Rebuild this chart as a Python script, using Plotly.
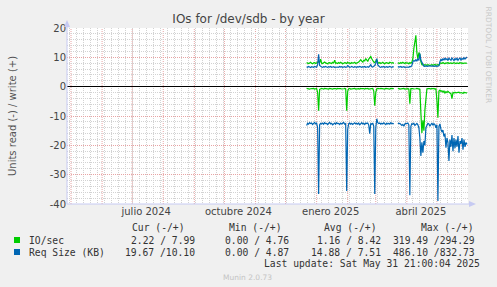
import plotly.graph_objects as go
import pandas as pd

# ---------------- data (daily, 2024-12-22 .. 2025-05-31) ----------------
start_date = "2024-12-22"
io_write = [
    8.2, 8.0, 7.9, 8.1, 8.3, 8.0, 7.8, 8.1, 8.2, 7.9,
    8.0, 8.3, 8.6, 8.1, 9.4, 8.0, 7.9, 8.2, 8.4, 8.1,
    8.0, 7.8, 8.1, 8.2, 8.0, 7.9, 8.3, 8.1, 9.0, 8.0,
    8.1, 7.9, 8.2, 8.0, 8.3, 8.1, 7.8, 8.0, 8.2, 8.1,
    7.9, 8.3, 8.0, 8.1, 7.9, 8.2, 8.0, 8.1, 8.3, 7.9,
    8.0, 8.2, 8.4, 8.8, 9.2, 8.7, 8.4, 9.0, 8.8, 9.6,
    9.2, 8.6, 9.4, 9.8, 10.3, 9.5, 8.8, 8.4, 8.2, 8.9,
    9.2, 8.4, 8.0, 8.2, 7.9, 8.1, 8.3, 8.0, 7.8, 8.1,
    8.2, 8.0, 7.9, 8.3, 8.1, 8.0, 8.2, 7.9, None, None,
    None, 8.0, 8.1, 7.9, 8.2, 8.0, 8.3, 8.1, 7.9, 8.2,
    8.0, 8.1, 7.8, 8.2, 8.0, 8.4, 9.5, 13.0, 16.0, 17.5,
    11.5, 9.5, 11.6, 11.0, 8.5, 7.5, 7.4, 7.3, 7.5, 7.4,
    7.3, 7.5, 7.4, 7.2, 7.4, 7.5, 7.3, 7.4, 7.6, 7.3,
    7.4, 7.5, 7.3, 8.0, 8.1, 7.9, 8.2, 8.0, 7.8, 8.1,
    8.0, 8.2, 7.9, 8.0, 8.1, 7.9, 8.0, 8.2, 8.0, 7.9,
    8.1, 8.0, 7.9, 8.2, 8.0, 8.1, 7.9, 8.0, 8.1, 8.0, 7.99,
]
req_write = [
    6.8, 6.6, 6.9, 6.7, 6.5, 6.8, 6.7, 6.6, 6.9, 6.7,
    6.6, 7.5, 11.0, 7.2, 6.8, 6.7, 6.6, 6.8, 6.7, 6.9,
    6.7, 6.6, 6.8, 6.7, 6.9, 6.6, 6.7, 6.8, 6.6, 6.7,
    6.8, 6.7, 6.6, 6.9, 6.7, 6.8, 6.6, 6.7, 6.8, 6.6,
    6.7, 7.2, 6.8, 6.6, 6.7, 6.9, 6.7, 6.6, 6.8, 6.7,
    6.6, 6.8, 6.7, 6.9, 6.7, 6.6, 6.8, 6.7, 6.9, 6.6,
    6.7, 6.8, 6.6, 6.9, 7.5, 6.8, 6.7, 7.0, 7.2, 8.0,
    9.6, 7.4, 6.8, 6.7, 6.6, 6.8, 6.7, 6.9, 6.6, 6.7,
    6.8, 6.6, 6.7, 6.9, 6.7, 6.6, 6.8, 6.7, None, None,
    None, 6.6, 6.8, 6.7, 6.9, 6.6, 6.7, 6.8, 6.6, 6.7,
    6.8, 6.7, 6.6, 6.9, 6.8, 7.2, 8.5, 8.9, 8.7, 9.2,
    8.8, 9.4, 9.0, 11.3, 9.0, 8.2, 7.2, 7.0, 6.9, 7.1,
    7.0, 6.9, 7.1, 7.0, 6.9, 7.0, 7.1, 6.9, 7.0, 7.1,
    6.9, 7.0, 7.1, 8.5, 9.4, 8.8, 9.6, 9.0, 9.8, 9.2,
    9.5, 8.9, 9.7, 9.3, 9.0, 9.8, 9.4, 8.9, 9.6, 9.2,
    9.7, 9.0, 9.5, 9.8, 9.1, 9.6, 9.3, 9.9, 9.4, 9.7, 10.1,
]
io_read = [
    -0.6, -0.7, -0.6, -0.8, -0.7, -0.6, -0.7, -0.6, -0.8, -0.7,
    -0.6, -2.0, -8.2, -0.9, -0.7, -0.6, -0.7, -0.8, -0.6, -0.7,
    -0.6, -0.7, -0.8, -0.6, -0.7, -0.6, -0.8, -0.7, -0.6, -0.7,
    -0.8, -0.6, -0.7, -0.6, -0.7, -0.8, -0.6, -0.7, -0.6, -0.7,
    -8.2, -1.5, -0.7, -0.6, -0.8, -0.7, -0.6, -0.7, -0.6, -0.8,
    -0.7, -0.6, -0.7, -0.8, -0.6, -0.7, -0.6, -0.7, -0.8, -0.6,
    -0.7, -0.6, -0.8, -0.7, -0.6, -0.7, -0.6, -1.5, -6.5, -2.0,
    -0.7, -0.6, -0.8, -0.7, -0.6, -0.7, -0.6, -0.7, -0.8, -0.6,
    -0.7, -0.6, -0.7, -0.8, -0.6, -0.7, -0.6, -0.7, None, None,
    None, -0.7, -0.6, -0.8, -0.7, -0.6, -0.7, -0.6, -0.8, -0.7,
    -0.6, -0.7, -0.8, -5.8, -0.7, -0.6, -0.7, -0.8, -0.6, -0.7,
    -0.6, -0.8, -0.7, -0.9, -9.0, -15.8, -11.5, -15.0, -8.0, -2.5,
    -0.8, -0.7, -0.6, -0.7, -0.8, -0.6, -0.7, -0.6, -0.8, -0.7,
    -4.8, -10.6, -1.5, -1.2, -1.6, -1.4, -1.9, -1.5, -2.2, -1.7,
    -2.0, -1.6, -1.9, -2.1, -2.4, -4.1, -2.0, -2.2, -1.9, -2.1,
    -2.0, -2.1, -1.9, -2.2, -2.0, -2.1, -2.3, -1.9, -2.1, -2.0, -2.22,
]
req_read = [
    -13.2, -12.5, -12.8, -12.3, -12.6, -12.4, -12.9, -12.5, -12.2, -12.7,
    -12.4, -14.0, -36.6, -13.0, -12.5, -12.7, -12.4, -12.8, -12.3, -12.6,
    -12.5, -12.9, -12.4, -12.2, -12.7, -12.5, -13.0, -12.6, -12.4, -12.8,
    -12.3, -12.6, -12.5, -12.9, -12.4, -12.7, -12.5, -12.2, -12.8, -12.6,
    -35.6, -14.5, -12.6, -12.4, -12.8, -12.5, -12.9, -12.4, -12.3, -12.7,
    -12.5, -12.8, -12.4, -13.0, -12.6, -12.3, -12.7, -12.5, -12.9, -12.4,
    -12.6, -12.4, -13.1, -16.0, -12.5, -12.8, -12.4, -13.5, -36.6, -14.0,
    -11.0, -12.3, -12.6, -12.4, -12.8, -12.5, -12.7, -12.3, -12.6, -12.9,
    -12.4, -12.7, -12.5, -12.8, -12.3, -12.6, -12.5, -12.7, None, None,
    None, -12.4, -12.6, -12.5, -12.8, -13.2, -12.9, -13.5, -12.7, -12.5,
    -12.6, -12.4, -13.0, -37.0, -13.5, -12.6, -12.8, -12.5, -13.2, -12.7,
    -12.5, -13.0, -14.0, -17.5, -23.6, -19.0, -22.5, -18.5, -20.0, -14.0,
    -12.8, -12.5, -12.7, -13.5, -12.9, -12.4, -13.2, -12.6, -12.9, -14.0,
    -13.0, -39.0, -13.5, -12.7, -14.5, -15.5, -14.8, -17.0, -16.0, -20.8,
    -17.5, -19.0, -25.3, -18.0, -20.5, -16.5, -22.0, -17.5, -21.0, -18.0,
    -20.5, -16.8, -22.5, -18.5, -19.5, -17.5, -21.5, -18.0, -20.5, -19.0, -19.67,
]

x_range = ["2024-04-27", "2025-06-01"]
month_lines = ["2024-05-01", "2024-06-01", "2024-07-01", "2024-08-01", "2024-09-01",
               "2024-10-01", "2024-11-01", "2024-12-01", "2025-01-01", "2025-02-01",
               "2025-03-01", "2025-04-01", "2025-05-01"]
label_dates = ["2024-07-15", "2024-10-15", "2025-01-15", "2025-04-15"]
label_text = ["julio 2024", "octubre 2024", "enero 2025", "abril 2025"]
y_ticks = [-40, -30, -20, -10, 0, 10, 20]
y_labels = ["-40", "-30", "-20", "-10", "0", "10", "20"]

legend_names = ["IO/sec", "Req Size (KB)"]
legend_colors = ["#00CC00", "#0066B3"]
stat_headers = ["Cur (-/+)", "Min (-/+)", "Avg (-/+)", "Max (-/+)"]
stats_cur = ["2.22 / 7.99", "19.67 /10.10"]
stats_min = ["0.00 / 4.76", "0.00 / 4.87"]
stats_avg = ["1.16 / 8.42", "14.88 / 7.51"]
stats_max = ["319.49 /294.29", "486.10 /832.73"]
last_update = "Last update: Sat May 31 21:00:04 2025"

dates = pd.date_range(start_date, periods=len(io_write), freq="D")

# ---------------- geometry helpers ----------------
W, H = 497, 287
L, R, T, B = 67, 29, 28, 83
PW, PH = W - L - R, H - T - B


def px(x):
    return (x - L) / PW


def py(y):
    return (H - B - y) / PH


fig = go.Figure()
for name, col, wr, rd in [("IO/sec", legend_colors[0], io_write, io_read),
                          ("Req Size (KB)", legend_colors[1], req_write, req_read)]:
    fig.add_trace(go.Scatter(x=dates, y=rd, mode="lines", name=name + " read",
                             line=dict(color=col, width=1.2), connectgaps=False,
                             showlegend=False))
    fig.add_trace(go.Scatter(x=dates, y=wr, mode="lines", name=name + " write",
                             line=dict(color=col, width=1.2), connectgaps=False,
                             showlegend=False))

axis_col = "#C6CAF2"
red_grid = "#E8A4A4"
grey_grid = "#D2D2D2"

shapes = []
for d in month_lines:
    shapes.append(dict(type="line", xref="x", yref="paper", x0=d, x1=d, y0=0, y1=1,
                       line=dict(color=red_grid, width=1, dash="1px,1px"), layer="below"))
# axis lines with arrows
shapes.append(dict(type="line", xref="paper", yref="paper", x0=0, x1=0, y0=0, y1=py(22),
                   line=dict(color=axis_col, width=1)))
shapes.append(dict(type="path", xref="paper", yref="paper",
                   path=f"M {px(64)} {py(27)} L {px(70)} {py(27)} L {px(67)} {py(20)} Z",
                   fillcolor=axis_col, line=dict(width=0)))
shapes.append(dict(type="line", xref="paper", yref="paper", x0=0, x1=px(472), y0=0, y1=0,
                   line=dict(color=axis_col, width=1)))
shapes.append(dict(type="path", xref="paper", yref="paper",
                   path=f"M {px(469)} {py(201)} L {px(469)} {py(207)} L {px(476)} {py(204)} Z",
                   fillcolor=axis_col, line=dict(width=0)))
# legend squares
for i, c in enumerate(legend_colors):
    yc = 240 + 12 * i
    shapes.append(dict(type="rect", xref="paper", yref="paper",
                       x0=px(14), x1=px(20), y0=py(yc - 3), y1=py(yc + 3),
                       fillcolor=c, line=dict(width=0)))

mono = "DejaVu Sans Mono"
txt_col = "#333333"
fs = 9.7
ann = []


def add(text, x, y, xanchor="left", size=fs, family=mono, color=txt_col, **kw):
    ann.append(dict(text=text, x=px(x), y=py(y), xref="paper", yref="paper",
                    xanchor=xanchor, yanchor="middle", showarrow=False,
                    font=dict(family=family, size=size, color=color), **kw))


header_right = [187, 284, 379, 476]
for h, xr in zip(stat_headers, header_right):
    add(h, xr, 228, "right")
for i in range(2):
    y = 240 + 12 * i
    add(legend_names[i], 27, y)
    add(stats_cur[i], 197, y, "right")
    add(stats_min[i], 291, y, "right")
    add(stats_avg[i], 383, y, "right")
    add(stats_max[i], 477, y, "right")
add(last_update, 482, 263, "right")
add("Munin 2.0.73", 247, 277, "center", size=7.5, family="DejaVu Sans", color="#C4C4C4")
add("Units read (-) / write (+)", 12, 116, "center", size=10, family="DejaVu Sans",
    color="#555555", textangle=-90)
ann.append(dict(text="RRDTOOL / TOBI OETIKER", x=px(488), y=py(4), xref="paper", yref="paper",
                xanchor="center", yanchor="top", showarrow=False, textangle=90,
                font=dict(family="DejaVu Sans", size=7.5, color="#C8C8C8")))

fig.update_layout(
    width=W, height=H,
    margin=dict(l=L, r=R, t=T, b=B),
    paper_bgcolor="#F0F0F0", plot_bgcolor="#FFFFFF",
    title=dict(text="IOs for /dev/sdb - by year", x=0.5, xanchor="center",
               y=1 - 19 / H, yanchor="middle",
               font=dict(family="DejaVu Sans", size=12, color="#444444")),
    shapes=shapes, annotations=ann, showlegend=False,
    xaxis=dict(type="date", range=x_range, tickvals=label_dates, ticktext=label_text,
               showgrid=False, zeroline=False, showline=False, ticks="",
               tickfont=dict(family="DejaVu Sans", size=10, color="#444444"),
               minor=dict(tick0="2024-04-29", dtick=7 * 86400000, showgrid=True,
                          gridcolor=grey_grid, griddash="1px,1px", gridwidth=1)),
    yaxis=dict(range=[-40, 20], tickvals=y_ticks, ticktext=y_labels,
               showgrid=True, gridcolor=red_grid, griddash="1px,1px", gridwidth=1,
               zeroline=True, zerolinecolor="#000000", zerolinewidth=1.3,
               showline=False, ticks="",
               tickfont=dict(family="DejaVu Sans", size=10, color="#444444"),
               minor=dict(dtick=2, showgrid=True, gridcolor=grey_grid,
                          griddash="1px,1px", gridwidth=1)),
)

fig.write_html("out.html")
